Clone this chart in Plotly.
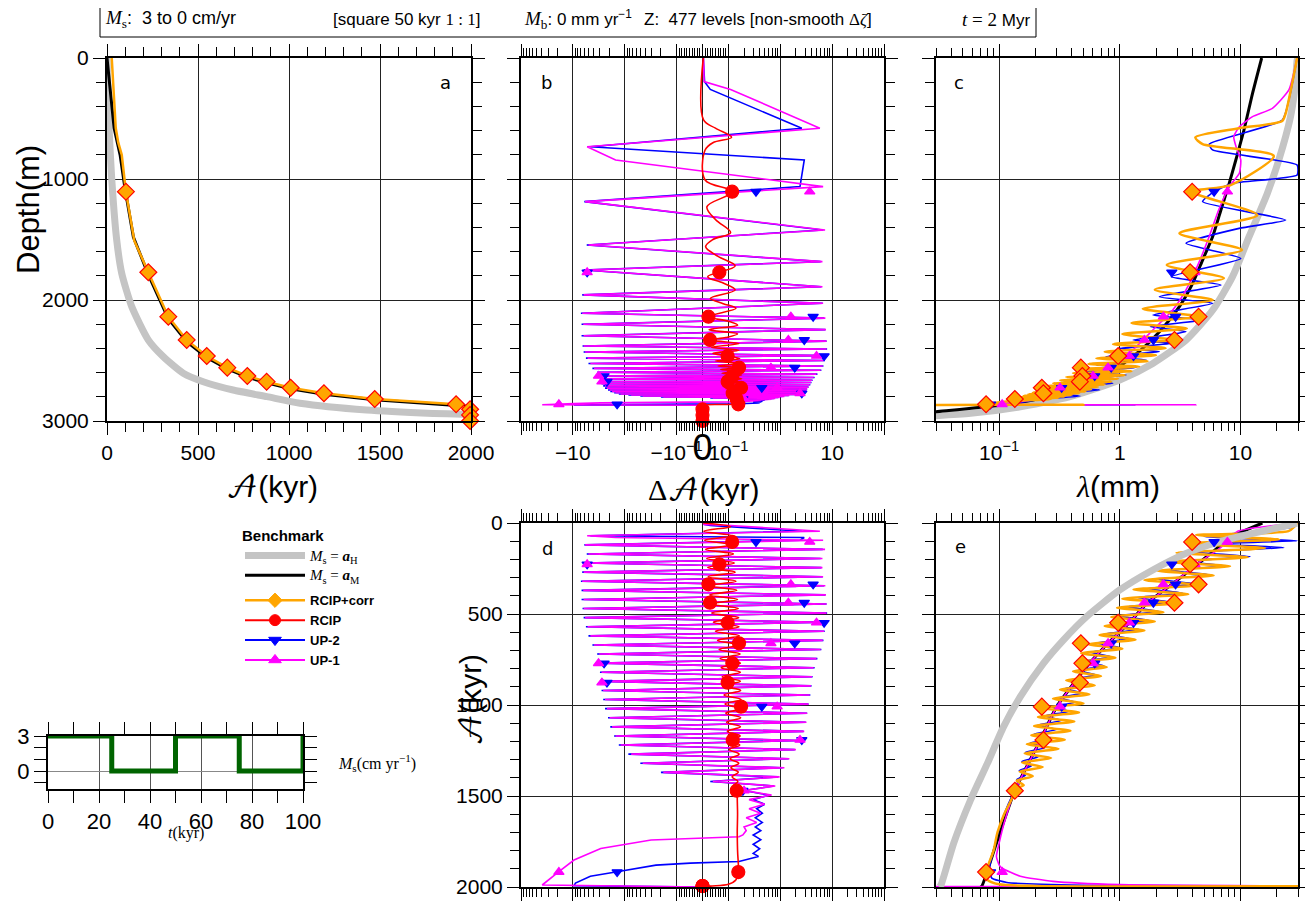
import math
import plotly.graph_objects as go

W, H = 1313, 901
OX, OY = 8, 8   # page offset of the figure inside the browser window

# ---------------- DATA ----------------
# Panel a : age (kyr) versus depth (m)
A_GRAY_AGE = [0, 5, 12, 26, 53, 81, 136, 227, 309, 419, 529, 693, 879, 1060, 1427, 1793, 1957, 2000]
A_GRAY_DEPTH = [0, 300, 600, 1000, 1500, 1780, 2055, 2330, 2468, 2605, 2675, 2744, 2799, 2853, 2909, 2937, 2945, 2948]
A_BLACK_AGE = [0, 20, 39, 72, 99, 145, 227, 337, 438, 548, 661, 771, 877, 1009, 1192, 1471, 1918, 2000]
A_BLACK_DEPTH = [0, 330, 579, 800, 1080, 1480, 1790, 2155, 2345, 2475, 2570, 2638, 2685, 2733, 2779, 2825, 2868, 2880]
A_ORANGE_AGE = [26, 38, 48, 62, 81, 104, 150, 227, 337, 438, 548, 661, 771, 877, 1009, 1192, 1471, 1918, 1995, 1995]
A_ORANGE_DEPTH = [0, 300, 579, 700, 800, 1105, 1510, 1771, 2138, 2330, 2463, 2559, 2628, 2675, 2725, 2771, 2818, 2862, 2903, 3000]

# marker positions (shared by all panels)
MARK_AGE = [104, 227, 337, 438, 548, 661, 771, 877, 1009, 1192, 1471, 1918, 1995, 1995, 1995]
MARK_DEPTH = [1105, 1771, 2138, 2330, 2463, 2559, 2628, 2675, 2725, 2771, 2818, 2862, 2903, 2950, 3000]
RCIP_MARK_DA = [0.118, 0.065, 0.023, 0.029, 0.097, 0.16, 0.119, 0.097, 0.175, 0.121, 0.144, 0.155, 0, 0, 0]
UP1_MARK_DA = [3.7, -5.3, 1.6, 1.43, 5.0, 0.66, -3.2, -2.75, 0.87, 2.4, 0.2, -18.6, 0, 0, 0]
UP2_MARK_DA = [0.34, -5.3, 4.3, 2.9, 7.0, 1.9, -2.5, -2.2, 0.44, 2.6, 0.19, -1.4, 0, 0, 0]
CORR_MARK_LAM = [3.98, 3.83, 4.5, 2.84, 0.97, 0.476, 0.49, 0.467, 0.226, 0.233, 0.135, 0.078, None, None, None]
UP1_MARK_LAM = [7.8, 4.2, 2.3, 1.6, 1.2, 0.8, 0.6, 0.45, 0.32, 0.23, 0.135, 0.106, None, None, None]
UP2_MARK_LAM = [6.05, 2.7, 2.9, 1.9, 1.3, 0.85, 0.62, 0.47, 0.33, 0.24, 0.132, 0.085, None, None, None]

# Panels b / d : age error (kyr) of UP-1 and UP-2
HEAD_AGE = [0, 8, 14, 45, 70, 80, 95, 120, 145, 170, 195, 220, 245, 270, 295, 320]
HEAD_DEPTH = [0, 195, 260, 581, 733, 843, 1063, 1187, 1421, 1545, 1683, 1752, 1890, 1958, 2027, 2110]
UP1_HEAD_DA = [0.004, 0.006, 0.11, 5.8, -5.3, -1.5, 6.7, -5.8, 7.3, -5.0, 6.5, -5.8, 6.5, -6.2, 6.7, -6.6]
UP2_HEAD_DA = [0.003, 0.008, 0.03, 2.6, -4.6, 2.9, 2.4, -6.0, 6.6, -5.4, 6.0, -6.2, 6.2, -6.6, 6.6, -7.0]
OSC_AGE = [345, 370, 395, 420, 445, 470, 495, 520, 545, 570, 595, 620, 645, 670, 695, 720, 745, 770,
           795, 820, 845, 870, 895, 920, 945, 970, 995, 1020, 1045, 1070, 1095, 1120, 1145, 1170,
           1195, 1220, 1245, 1270, 1295, 1320, 1345, 1370, 1395, 1420, 1445, 1470]
OSC_DEPTH = [2150, 2200, 2245, 2295, 2340, 2380, 2405, 2430, 2460, 2480, 2500, 2525, 2545, 2565, 2580,
             2597, 2613, 2628, 2640, 2652, 2663, 2673, 2682, 2691, 2700, 2710, 2720, 2728, 2736, 2743,
             2750, 2756, 2762, 2767, 2772, 2776, 2780, 2785, 2789, 2793, 2797, 2801, 2805, 2809, 2813, 2818]
UP1_OSC_DA = [7.4, -6.3, 7.6, -6.2, 7.8, -6.2, 7.8, -5.8, 7.5, -5.2, 7.0, -4.6, 6.6, -3.9, 6.0, -3.1,
              5.0, -2.9, 4.4, -2.8, 4.1, -2.7, 3.9, -2.6, 3.7, -2.4, 3.5, -2.2, 3.3, -1.95, 3.2, -1.75,
              2.9, -1.5, 2.6, -1.2, 2.0, -0.75, 1.5, -0.45, 1.2, -0.18, 0.97, 0.04, 0.8, 0.2]
UP2_OSC_DA = [7.0, -6.8, 7.4, -6.8, 7.8, -6.5, 8.0, -6.2, 7.8, -5.6, 7.2, -5.0, 6.8, -4.2, 6.2, -3.4,
              5.2, -3.1, 4.6, -3.0, 4.2, -2.9, 4.0, -2.8, 3.8, -2.6, 3.5, -2.4, 3.3, -2.1, 3.1, -1.9,
              2.8, -1.6, 2.5, -1.3, 1.9, -0.85, 1.45, -0.5, 1.1, -0.2, 0.9, 0.03, 0.75, 0.2]
UP1_TAIL_AGE = [1495, 1520, 1545, 1570, 1595, 1620, 1645, 1670, 1690, 1714, 1724, 1733, 1742, 1788, 1852, 1916, 1989, 2000, 2000]
UP1_TAIL_DEPTH = [2820, 2823, 2826, 2829, 2831, 2834, 2836, 2838, 2840, 2842, 2843, 2844, 2845, 2850, 2856, 2862, 2866, 2870, 3000]
UP1_TAIL_DA = [0.68, 0.25, 0.5, 0.25, 0.42, 0.22, 0.35, 0.2, 0.22, 0.19, 0.16, -0.047, -0.31, -2.9, -9.5, -18.6, -39, 0, 0]
UP2_TAIL_AGE = [1495, 1520, 1545, 1570, 1595, 1620, 1645, 1670, 1690, 1714, 1740, 1765, 1790, 1815, 1832, 1860, 1869, 1880, 1916, 1941, 1978, 1993, 2000, 2000]
UP2_TAIL_DEPTH = [2820, 2823, 2826, 2829, 2831, 2834, 2836, 2838, 2840, 2842, 2845, 2848, 2851, 2853, 2855, 2858, 2859, 2860, 2862, 2864, 2866, 2867, 2870, 3000]
UP2_TAIL_DA = [0.6, 0.3, 0.5, 0.35, 0.45, 0.33, 0.45, 0.33, 0.42, 0.3, 0.42, 0.3, 0.4, 0.3, 0.38, 0.16, -0.047, -0.25, -1.4, -4.6, -8.9, -9.5, 0, 0]

# RCIP age error versus depth (panel b)
RCIP_B_DEPTH = [0, 512, 580, 655, 700, 760, 1008, 1105, 1229, 1335, 1443, 1500, 1559, 1640, 1719, 1807, 1860,
                1917, 1986, 2030, 2069, 2138, 2175, 2207, 2245, 2280, 2310, 2330, 2360, 2390, 2415, 2440, 2463,
                2485, 2505, 2525, 2545, 2559, 2575, 2590, 2605, 2620, 2635, 2650, 2663, 2676, 2688, 2700, 2712,
                2723, 2734, 2745, 2755, 2765, 2775, 2785, 2795, 2805, 2815, 2825, 2835, 2845, 2855, 2862, 2866, 2870, 3000]
RCIP_B_DA = [0.003, 0.004, 0.05, 0.115, 0.04, 0.01, 0.01, 0.118, 0.017, 0.05, 0.11, 0.04, 0.012, 0.06, 0.135,
             0.02, 0.08, 0.135, 0.03, 0.08, 0.14, 0.023, 0.1, 0.15, 0.025, 0.15, 0.09, 0.029, 0.16, 0.035, 0.16,
             0.04, 0.097, 0.165, 0.05, 0.17, 0.06, 0.16, 0.07, 0.175, 0.075, 0.18, 0.08, 0.18, 0.085, 0.18, 0.085,
             0.18, 0.09, 0.185, 0.09, 0.18, 0.095, 0.18, 0.1, 0.175, 0.1, 0.17, 0.11, 0.165, 0.12, 0.16, 0.13,
             0.155, 0.003, 0, 0]
# RCIP age error versus age (panel d)
RCIP_D_AGE = [0, 20, 45, 70, 95, 120, 145, 170, 195, 220, 245, 270, 295, 320, 345, 370, 395, 420, 445, 470,
              495, 520, 545, 570, 595, 620, 645, 670, 695, 720, 745, 770, 795, 820, 845, 870, 895, 920, 945, 970,
              995, 1020, 1045, 1070, 1095, 1120, 1145, 1170, 1195, 1220, 1245, 1270, 1295, 1320, 1345, 1370,
              1395, 1420, 1445, 1470, 1500, 1600, 1700, 1800, 1919, 1960, 1985, 1995, 2000]
RCIP_D_DA = [0.003, 0.11, 0.005, 0.118, 0.008, 0.12, 0.012, 0.125, 0.016, 0.13, 0.02, 0.135, 0.022, 0.14,
             0.023, 0.145, 0.028, 0.15, 0.029, 0.155, 0.035, 0.158, 0.042, 0.16, 0.05, 0.162, 0.058, 0.165,
             0.064, 0.168, 0.068, 0.17, 0.072, 0.17, 0.076, 0.17, 0.08, 0.172, 0.083, 0.175, 0.087, 0.175,
             0.09, 0.172, 0.093, 0.17, 0.096, 0.168, 0.1, 0.165, 0.104, 0.16, 0.108, 0.158, 0.112, 0.155,
             0.118, 0.152, 0.125, 0.15, 0.148, 0.15, 0.148, 0.15, 0.155, 0.14, 0.1, 0.03, 0]

# Panel c : layer thickness (mm) versus depth (m)
C_GRAY_DEPTH = [0, 17, 209, 485, 843, 1119, 1477, 1807, 2083, 2331, 2524, 2661, 2799, 2882, 2937, 2960]
C_GRAY_LAM = [30, 29.5, 28.6, 26, 20.8, 16.7, 11.8, 8.6, 5.9, 3.54, 1.88, 1.0, 0.387, 0.15, 0.058, 0.025]
C_BLACK_DEPTH = [0, 292, 595, 843, 1036, 1256, 1477, 1670, 1862, 2055, 2248, 2413, 2579, 2689, 2799, 2868, 2923, 2940]
C_BLACK_LAM = [15, 12.6, 10.7, 9.16, 8.07, 6.89, 5.88, 4.86, 4.02, 3.12, 2.2, 1.5, 0.9, 0.55, 0.25, 0.105, 0.030, 0.02]
C_OR_DEPTH = [0, 237, 457, 521, 581, 656, 711, 810, 1050, 1105, 1298, 1449, 1587, 1710, 1820, 1915, 2000, 2072,
              2138, 2190, 2235, 2282, 2330, 2365, 2398, 2428, 2456, 2482, 2506, 2528, 2550, 2570, 2588, 2606,
              2622, 2637, 2651, 2664, 2676, 2688, 2699, 2710, 2720, 2730, 2739, 2748, 2756, 2764, 2771, 2778,
              2785, 2791, 2797, 2803, 2808, 2813, 2818, 2840, 2862, 2866, 2868]
C_OR_LAM = [29.5, 26.5, 23.7, 22.2, 9.75, 4.23, 4.86, 18.9, 8.3, 3.97, 13.8, 3.12, 10.3, 2.45, 7.3, 1.95, 5.9,
            1.55, 4.5, 1.25, 3.6, 1.05, 2.84, 0.88, 2.4, 0.75, 2.0, 0.64, 1.7, 0.55, 1.45, 0.47, 1.25, 0.41,
            1.1, 0.36, 0.97, 0.32, 0.85, 0.28, 0.75, 0.25, 0.66, 0.23, 0.58, 0.21, 0.52, 0.19, 0.46, 0.175,
            0.40, 0.16, 0.35, 0.15, 0.31, 0.14, 0.27, 0.11, 0.078, 0.5, 0.01]
C_BL_DEPTH = [0, 347, 512, 711, 760, 884, 967, 1036, 1105, 1187, 1339, 1408, 1532, 1656, 1807, 1876, 1973, 2028,
              2124, 2165, 2220, 2262, 2331, 2358, 2400, 2427, 2468, 2496, 2537, 2557, 2592, 2620, 2661, 2689,
              2722, 2744, 2772, 2794, 2821, 2849, 2862, 2866, 2870]
C_BL_LAM = [29.5, 25.2, 22.3, 5.52, 5.88, 29.5, 29.5, 8.6, 6.05, 4.86, 23.7, 9.75, 3.54, 10.07, 2.67, 6.9, 2.13,
            5.88, 1.88, 4.86, 1.79, 3.54, 1.29, 2.75, 1.0, 2.13, 0.77, 1.66, 0.64, 1.37, 0.53, 1.13, 0.44, 0.88,
            0.36, 0.68, 0.28, 0.47, 0.21, 0.15, 0.11, 1.33, 0.01]
C_MAG_DEPTH = [0, 264, 416, 485, 568, 650, 733, 843, 953, 1063, 1091, 1256, 1477, 1697, 1917, 2083, 2248, 2386,
               2510, 2620, 2716, 2799, 2840, 2860, 2866, 2870]
C_MAG_LAM = [29.5, 25.2, 18.4, 12.6, 9.8, 8.8, 9.2, 10.07, 9.8, 8.07, 7.8, 6.6, 5.5, 4.5, 3.54, 2.75, 1.88, 1.37,
             1.0, 0.68, 0.41, 0.25, 0.15, 0.1, 4.28, 0.01]

# Panel e : layer thickness (mm) versus age (kyr)
E_GRAY_AGE = [0, 16, 57, 103, 167, 258, 368, 515, 643, 771, 954, 1119, 1321, 1522, 1760, 1989, 2000]
E_GRAY_LAM = [29.5, 23.7, 12.6, 6.67, 3.54, 1.88, 1.0, 0.53, 0.341, 0.233, 0.150, 0.109, 0.080, 0.058, 0.042, 0.033, 0.032]
E_BLACK_AGE = [0, 56, 112, 227, 337, 438, 548, 661, 771, 877, 1009, 1192, 1471, 1760, 1995, 2000]
E_BLACK_LAM = [15.2, 9.75, 7.2, 4.4, 2.7, 1.7, 1.2, 0.8, 0.56, 0.42, 0.3, 0.22, 0.135, 0.095, 0.072, 0.07]
E_OR_AGE = [0, 20, 45, 66, 90, 112, 138, 163, 188, 213, 238, 263, 288, 313, 341, 366, 391, 416, 441, 466, 491,
            516, 541, 566, 591, 616, 641, 666, 691, 716, 741, 766, 791, 816, 841, 866, 891, 916, 941, 966, 991,
            1016, 1041, 1066, 1091, 1116, 1141, 1166, 1191, 1216, 1241, 1266, 1291, 1316, 1341, 1366, 1391,
            1416, 1441, 1466, 1500, 1600, 1700, 1800, 1919, 1960, 1985, 1994, 1996]
E_OR_LAM = [29.5, 28, 25, 4.29, 21, 3.6, 16, 2.95, 11.5, 2.5, 8.2, 2.05, 6.0, 1.6, 4.5, 1.3, 3.7, 1.05, 2.9,
            0.95, 2.3, 0.85, 1.95, 0.75, 1.6, 0.68, 1.35, 0.55, 1.05, 0.48, 0.92, 0.45, 0.78, 0.41, 0.7, 0.36,
            0.62, 0.32, 0.56, 0.28, 0.5, 0.23, 0.46, 0.21, 0.42, 0.195, 0.39, 0.185, 0.35, 0.17, 0.31, 0.163,
            0.27, 0.155, 0.23, 0.148, 0.19, 0.14, 0.16, 0.13, 0.13, 0.11, 0.097, 0.09, 0.078, 0.08, 0.1, 0.2, 40]
E_BL_AGE = [0, 25, 50, 75, 98, 115, 135, 160, 185, 210, 235, 260, 285, 310, 335, 360, 385, 410, 435, 460, 485,
            510, 535, 560, 585, 610, 635, 660, 685, 710, 735, 760, 785, 810, 835, 860, 885, 910, 935, 960, 985,
            1010, 1035, 1060, 1085, 1110, 1135, 1160, 1185, 1210, 1235, 1260, 1285, 1310, 1335, 1360, 1385,
            1410, 1440, 1500, 1600, 1700, 1800, 1900, 1951, 1975, 1990, 1996]
E_BL_LAM = [29.5, 26, 12, 5.0, 29.5, 5.5, 23, 4.3, 12, 3.3, 7.5, 2.6, 5.6, 2.1, 4.3, 1.7, 3.3, 1.4, 2.6, 1.15,
            2.1, 0.97, 1.75, 0.84, 1.45, 0.74, 1.2, 0.64, 1.0, 0.57, 0.85, 0.5, 0.74, 0.45, 0.64, 0.4, 0.56,
            0.35, 0.49, 0.31, 0.43, 0.27, 0.38, 0.24, 0.33, 0.21, 0.3, 0.195, 0.27, 0.18, 0.24, 0.165, 0.21,
            0.155, 0.185, 0.147, 0.165, 0.14, 0.145, 0.128, 0.11, 0.098, 0.09, 0.083, 0.087, 0.116, 0.5, 40]
E_MAG_AGE = [0, 15, 30, 45, 65, 85, 106, 150, 227, 337, 438, 548, 661, 771, 877, 1009, 1192, 1471, 1650, 1760,
             1832, 1878, 1897, 1941, 1969, 1987, 1995, 1998]
E_MAG_LAM = [29.5, 18, 12, 9.5, 8.8, 9.6, 7.8, 6.4, 4.3, 2.7, 1.7, 1.2, 0.8, 0.56, 0.42, 0.3, 0.22, 0.135, 0.11,
             0.1, 0.095, 0.1, 0.106, 0.15, 0.28, 1.0, 40, 0.02]

# Inset : surface accumulation forcing
INSET_T = [0, 25, 25, 50, 50, 75, 75, 100, 100]
INSET_MS = [3, 3, 0, 0, 3, 3, 0, 0, 3]

# ---------------- helpers ----------------
ORANGE, RED, BLUE, MAG, GRAY, BLACK = '#FFA500', '#FF0000', '#0000FF', '#FF00FF', '#C4C4C4', '#000000'


def symlog(vals):
    """symmetric-log scale: linear within |v|<=0.1, one unit per decade outside"""
    out = []
    for v in vals:
        if v is None:
            out.append(None)
        elif abs(v) <= 0.1:
            out.append(5.0 * v)
        else:
            out.append(math.copysign(0.5 + math.log10(abs(v) / 0.1), v))
    return out


def px2x(px):
    return (px - OX) / W


def py2y(py):
    return 1 - (py - OY) / H


def xd(a, b):
    return [px2x(a), px2x(b)]


def yd(top, bottom):
    return [py2y(bottom), py2y(top)]


fig = go.Figure()


def line(x, y, color, width, xa, ya, shape='linear', smooth=None):
    ln = dict(color=color, width=width, shape=shape)
    if smooth is not None:
        ln['smoothing'] = smooth
    fig.add_trace(go.Scatter(x=x, y=y, mode='lines', xaxis=xa, yaxis=ya, showlegend=False,
                             line=ln, hoverinfo='skip'))


def marks(x, y, symbol, size, color, outline, xa, ya):
    fig.add_trace(go.Scatter(x=x, y=y, mode='markers', xaxis=xa, yaxis=ya, showlegend=False,
                             cliponaxis=False, hoverinfo='skip',
                             marker=dict(symbol=symbol, size=size, color=color,
                                         line=dict(color=outline, width=1.2))))


# ---------- panel a ----------
line(A_GRAY_AGE, A_GRAY_DEPTH, GRAY, 7, 'x', 'y', 'spline', 0.6)
line(A_BLACK_AGE, A_BLACK_DEPTH, BLACK, 3, 'x', 'y')
line(A_ORANGE_AGE, A_ORANGE_DEPTH, ORANGE, 2.5, 'x', 'y')
marks(MARK_AGE, MARK_DEPTH, 'diamond', 13, ORANGE, RED, 'x', 'y')

# ---------- panel b ----------
up2_da = UP2_HEAD_DA + UP2_OSC_DA + UP2_TAIL_DA
up1_da = UP1_HEAD_DA + UP1_OSC_DA + UP1_TAIL_DA
line(symlog(up2_da), HEAD_DEPTH + OSC_DEPTH + UP2_TAIL_DEPTH, BLUE, 1.6, 'x2', 'y2')
line(symlog(up1_da), HEAD_DEPTH + OSC_DEPTH + UP1_TAIL_DEPTH, MAG, 1.6, 'x2', 'y2')
line(symlog(RCIP_B_DA), RCIP_B_DEPTH, RED, 1.6, 'x2', 'y2', 'spline', 1.0)
marks(symlog(UP2_MARK_DA), MARK_DEPTH, 'triangle-down', 9, BLUE, BLUE, 'x2', 'y2')
marks(symlog(UP1_MARK_DA), MARK_DEPTH, 'triangle-up', 9, MAG, MAG, 'x2', 'y2')
marks(symlog(RCIP_MARK_DA), MARK_DEPTH, 'circle', 13, RED, RED, 'x2', 'y2')

# ---------- panel c ----------
line(C_GRAY_LAM, C_GRAY_DEPTH, GRAY, 7, 'x3', 'y3', 'spline', 0.6)
line(C_BLACK_LAM, C_BLACK_DEPTH, BLACK, 3, 'x3', 'y3', 'spline', 0.6)
line(C_BL_LAM, C_BL_DEPTH, BLUE, 1.6, 'x3', 'y3', 'spline', 0.5)
line(C_MAG_LAM, C_MAG_DEPTH, MAG, 1.6, 'x3', 'y3', 'spline', 0.5)
line(C_OR_LAM, C_OR_DEPTH, ORANGE, 2.5, 'x3', 'y3', 'spline', 0.7)
marks(UP2_MARK_LAM, MARK_DEPTH, 'triangle-down', 9, BLUE, BLUE, 'x3', 'y3')
marks(UP1_MARK_LAM, MARK_DEPTH, 'triangle-up', 9, MAG, MAG, 'x3', 'y3')
marks(CORR_MARK_LAM, MARK_DEPTH, 'diamond', 13, ORANGE, RED, 'x3', 'y3')

# ---------- panel d ----------
line(symlog(up2_da), HEAD_AGE + OSC_AGE + UP2_TAIL_AGE, BLUE, 1.6, 'x4', 'y4')
line(symlog(up1_da), HEAD_AGE + OSC_AGE + UP1_TAIL_AGE, MAG, 1.6, 'x4', 'y4')
line(symlog(RCIP_D_DA), RCIP_D_AGE, RED, 1.6, 'x4', 'y4', 'spline', 1.0)
marks(symlog(UP2_MARK_DA), MARK_AGE, 'triangle-down', 9, BLUE, BLUE, 'x4', 'y4')
marks(symlog(UP1_MARK_DA), MARK_AGE, 'triangle-up', 9, MAG, MAG, 'x4', 'y4')
marks(symlog(RCIP_MARK_DA), MARK_AGE, 'circle', 13, RED, RED, 'x4', 'y4')

# ---------- panel e ----------
line(E_BLACK_LAM, E_BLACK_AGE, BLACK, 3, 'x5', 'y5', 'spline', 0.6)
line(E_BL_LAM, E_BL_AGE, BLUE, 1.6, 'x5', 'y5', 'spline', 0.5)
line(E_MAG_LAM, E_MAG_AGE, MAG, 1.6, 'x5', 'y5', 'spline', 0.5)
line(E_OR_LAM, E_OR_AGE, ORANGE, 2.5, 'x5', 'y5', 'spline', 0.7)
line(E_GRAY_LAM, E_GRAY_AGE, GRAY, 7, 'x5', 'y5', 'spline', 0.6)
marks(UP2_MARK_LAM, MARK_AGE, 'triangle-down', 9, BLUE, BLUE, 'x5', 'y5')
marks(UP1_MARK_LAM, MARK_AGE, 'triangle-up', 9, MAG, MAG, 'x5', 'y5')
marks(CORR_MARK_LAM, MARK_AGE, 'diamond', 13, ORANGE, RED, 'x5', 'y5')

# ---------- inset ----------
line(INSET_T, INSET_MS, '#006400', 5, 'x6', 'y6')

# ---------- legend entries ----------
SERIF = 'Liberation Serif'
BENCH = '<span style="font-family:%s;font-size:15px"><i>M</i><sub>s</sub> = <b><i>a</i></b><sub>%s</sub></span>'
leg = [
    (BENCH % (SERIF, 'H'), GRAY, 7, None, 'bench'),
    (BENCH % (SERIF, 'M'), BLACK, 3, None, 'bench'),
    ('<b>RCIP+corr</b>', ORANGE, 2.5, 'diamond', 'mod'),
    ('<b>RCIP</b>', RED, 2, 'circle', 'mod'),
    ('<b>UP-2</b>', BLUE, 2, 'triangle-down', 'mod'),
    ('<b>UP-1</b>', MAG, 2, 'triangle-up', 'mod'),
]
for name, col, wid, sym, grp in leg:
    fig.add_trace(go.Scatter(x=[None], y=[None], xaxis='x', yaxis='y', name=name, legendgroup=grp,
                             mode='lines' if sym is None else 'lines+markers',
                             line=dict(color=col, width=wid),
                             marker=dict(symbol=sym or 'circle', size=11, color=col,
                                         line=dict(color=col, width=1))))

# ---------------- axes ----------------
TICKFONT = dict(family='Liberation Sans', size=21, color='black')


def axis(domain, anchor, **kw):
    d = dict(domain=domain, anchor=anchor, showline=True, linecolor='black', linewidth=2,
             mirror='ticks', ticks='outside', ticklen=12, tickwidth=1, tickcolor='black',
             showgrid=True, gridcolor='#222222', gridwidth=1, zeroline=False, automargin=False,
             tickangle=0, tickfont=TICKFONT, fixedrange=True)
    d.update(kw)
    return d


def minor(**kw):
    d = dict(ticks='outside', ticklen=9, tickwidth=1, tickcolor='black', showgrid=False)
    d.update(kw)
    return d


# symmetric log ticks
SL_MAJ = [-3.5, -2.5, -1.5, -0.5, 0, 0.5, 1.5, 2.5, 3.5]
SL_TXT = ['', '−10', '', '−10<sup>−1</sup>', '<span style="font-size:36px">0</span>', '10<sup>−1</sup>', '', '10', '']
SL_MIN = []
for dec in range(3):
    for m in range(2, 10):
        t = 0.5 + dec + math.log10(m)
        SL_MIN += [t, -t]
for i in range(1, 10):
    SL_MIN += [0.05 * i, -0.05 * i]

LOG_MIN = [m * 10 ** k for k in (-2, -1, 0, 1) for m in range(2, 10) if 0.03 <= m * 10 ** k <= 30]
LOG_RANGE = [math.log10(0.03), math.log10(30)]

dA, dB, dC = xd(107, 471), xd(521, 884), xd(936, 1298)
top_y, bot_y = yd(58, 421), yd(523, 887)

layout_axes = dict(
    xaxis=axis(dA, 'y', range=[0, 2000], tickmode='array', tickvals=[0, 500, 1000, 1500, 2000],
               minor=minor(dtick=100)),
    yaxis=axis(top_y, 'x', range=[3000, 0], tickmode='array', tickvals=[0, 1000, 2000, 3000],
               minor=minor(dtick=200)),
    xaxis2=axis(dB, 'y2', range=[-3.5, 3.5], tickmode='array', tickvals=SL_MAJ, ticktext=SL_TXT,
                minor=minor(tickmode='array', tickvals=SL_MIN, ticklen=8)),
    yaxis2=axis(top_y, 'x2', range=[3000, 0], tickmode='array', tickvals=[0, 1000, 2000, 3000],
                showticklabels=False, minor=minor(dtick=200)),
    xaxis3=axis(dC, 'y3', type='log', range=LOG_RANGE, tickmode='array', tickvals=[0.1, 1, 10],
                ticktext=['10<sup>−1</sup>', '1', '10'],
                minor=minor(tickmode='array', tickvals=LOG_MIN, ticklen=8)),
    yaxis3=axis(top_y, 'x3', range=[3000, 0], tickmode='array', tickvals=[0, 1000, 2000, 3000],
                showticklabels=False, minor=minor(dtick=200)),
    xaxis4=axis(dB, 'y4', range=[-3.5, 3.5], tickmode='array', tickvals=SL_MAJ, showticklabels=False,
                minor=minor(tickmode='array', tickvals=SL_MIN, ticklen=8)),
    yaxis4=axis(bot_y, 'x4', range=[2000, 0], tickmode='array', tickvals=[0, 500, 1000, 1500, 2000],
                minor=minor(dtick=100)),
    xaxis5=axis(dC, 'y5', type='log', range=LOG_RANGE, tickmode='array', tickvals=[0.1, 1, 10],
                showticklabels=False, minor=minor(tickmode='array', tickvals=LOG_MIN, ticklen=8)),
    yaxis5=axis(bot_y, 'x5', range=[2000, 0], tickmode='array', tickvals=[0, 500, 1000, 1500, 2000],
                showticklabels=False, minor=minor(dtick=100)),
    xaxis6=axis(xd(48, 303), 'y6', range=[0, 100], tickmode='array', tickvals=[0, 20, 40, 60, 80, 100],
                gridcolor='#555555', tickfont=dict(family='Liberation Sans', size=22, color='black'),
                minor=minor(dtick=10, ticklen=12)),
    yaxis6=axis(yd(736, 789), 'x6', range=[-1.54, 3], tickmode='array', tickvals=[0, 3],
                gridcolor='#888888', tickfont=dict(family='Liberation Sans', size=22, color='black'),
                minor=minor(tickmode='array', tickvals=[-1, 1, 2], ticklen=12)),
)

# ---------------- annotations ----------------
CAL = '<span style="font-family:DejaVu Math TeX Gyre, STIX Two Math, Latin Modern Math, serif">𝒜</span>'
ann = []


def txt(x, y, text, size, family='Liberation Sans', angle=0, xanchor='center', **kw):
    d = dict(x=px2x(x), y=py2y(y), xref='paper', yref='paper', text=text, showarrow=False,
             textangle=angle, font=dict(family=family, size=size, color='black'),
             xanchor=xanchor, yanchor='middle')
    d.update(kw)
    ann.append(d)


MS = '<span style="font-family:%s;font-size:19px"><i>M</i><sub>s</sub></span>' % SERIF
MB = '<span style="font-family:%s;font-size:19px"><i>M</i><sub>b</sub></span>' % SERIF
TITLE_PARTS = [
    (103, MS + ':  3 to 0 cm/yr', 18),
    (331, '[square 50 kyr <span style="font-family:%s">1 : 1</span>]' % SERIF, 17),
    (522, MB + ': 0 mm yr<sup>−1</sup>', 17),
    (642, 'Z:  477 levels [non-smooth <span style="font-family:%s">Δ<i>ζ</i></span>]' % SERIF, 17),
    (960, '<span style="font-family:%s;font-size:19px"><i>t</i> = 2</span> Myr' % SERIF, 17),
]
for px, t, fs in TITLE_PARTS:
    txt(px, 19, t, fs, xanchor='left')

for lab, (px, py) in zip('abcde', [(445, 82), (546, 83), (959, 82), (547, 548), (961, 546)]):
    txt(px, py, lab, 18, family='DejaVu Sans')

txt(28, 210, 'Depth(m)', 31, angle=-90)
txt(272, 486, CAL + '(kyr)', 30)
txt(703, 490, '<span style="font-family:%s">Δ</span>' % SERIF + CAL + '(kyr)', 30)
txt(1118, 486, '<span style="font-family:%s"><i>λ</i></span>(mm)' % SERIF, 30)
txt(470, 700, CAL + '(kyr)', 30, angle=-90)
txt(377, 763, '<i>M</i><sub>s</sub>(cm yr<sup>−1</sup>)', 16, family=SERIF)
txt(186, 833, '<i>t</i>(kyr)', 16, family=SERIF)

fig.update_layout(
    width=W, height=H, margin=dict(l=0, r=0, t=0, b=0, autoexpand=False),
    paper_bgcolor='white', plot_bgcolor='white',
    annotations=ann,
    shapes=[dict(type='rect', xref='paper', yref='paper', x0=px2x(100), x1=px2x(1036),
                 y0=py2y(37), y1=py2y(2), line=dict(color='black', width=1))],
    showlegend=True,
    legend=dict(x=px2x(240), y=py2y(521), xanchor='left', yanchor='top',
                bgcolor='rgba(0,0,0,0)', borderwidth=0, tracegroupgap=5,
                traceorder='grouped', itemwidth=60,
                title=dict(text='<b>Benchmark</b>', font=dict(family='Liberation Sans', size=15)),
                font=dict(family='Liberation Sans', size=13, color='black')),
    **layout_axes,
)

fig.write_html('out.html')
